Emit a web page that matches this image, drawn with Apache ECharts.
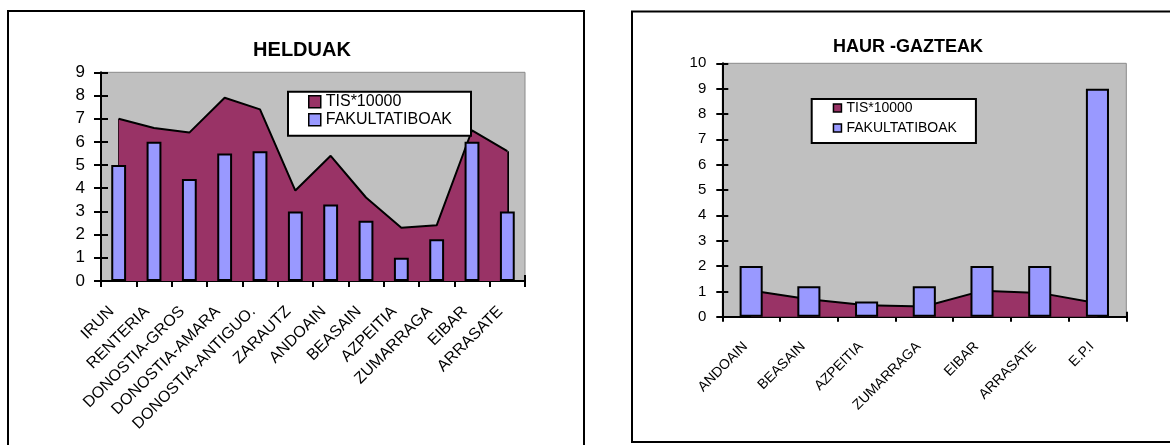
<!DOCTYPE html>
<html>
<head>
<meta charset="utf-8">
<script src="https://cdn.jsdelivr.net/npm/echarts@6/dist/echarts.min.js"></script>
<style>
html,body{margin:0;padding:0;background:#fff;}
#c{width:1170px;height:445px;}
</style>
</head>
<body>
<div id="c"></div>
<script>
// ---- data ----
const helduakCats = ['IRUN','RENTERIA','DONOSTIA-GROS','DONOSTIA-AMARA','DONOSTIA-ANTIGUO.','ZARAUTZ','ANDOAIN','BEASAIN','AZPEITIA','ZUMARRAGA','EIBAR','ARRASATE'];
const helduakTis = [7.0, 6.6, 6.4, 7.9, 7.4, 3.9, 5.4, 3.6, 2.3, 2.4, 6.5, 5.6];
const helduakFak = [5, 6, 4.4, 5.5, 5.6, 3, 3.3, 2.6, 1, 1.8, 6, 3];

const haurCats = ['ANDOAIN','BEASAIN','AZPEITIA','ZUMARRAGA','EIBAR','ARRASATE','E.P.I'];
const haurTis = [1.03, 0.69, 0.45, 0.4, 1.02, 0.94, 0.53];
const haurFak = [2, 1.2, 0.6, 1.2, 2, 2, 9];

const seriesNames = ['TIS*10000', 'FAKULTATIBOAK'];
const titles = ['HELDUAK', 'HAUR -GAZTEAK'];

// ---- styling ----
const FONT = '"Liberation Sans", Arial, sans-serif';
const AREA = '#993366';
const BAR = '#9999FF';
const BLACK = '#000';

const G1 = {left: 101, top: 72.3, width: 424, height: 208.7};
const G2 = {left: 722.3, top: 63.3, width: 404, height: 253.4};

function mainX(gi, cats, fs, margin, shift, tlen) {
  return {
    gridIndex: gi, type: 'category', data: cats, boundaryGap: true,
    axisLine: {onZero: false, lineStyle: {color: BLACK, width: 2}},
    axisTick: {show: true, interval: 0, length: tlen, lineStyle: {color: BLACK, width: 2}},
    axisLabel: {interval: 0, rotate: 45, fontSize: fs, margin: margin, padding: [0, shift, 0, 0],
                color: BLACK, fontFamily: FONT},
    splitLine: {show: false}
  };
}
function overX(gi, cats, h, tlen) {
  return {
    gridIndex: gi, type: 'category', data: cats, boundaryGap: true, position: 'top', offset: -h,
    axisLine: {show: false, onZero: false},
    axisTick: {show: true, interval: 0, length: tlen, lineStyle: {color: BLACK, width: 2}},
    axisLabel: {show: false}, splitLine: {show: false}
  };
}
function mainY(gi, max, fs, tlen) {
  return {
    gridIndex: gi, type: 'value', min: 0, max: max, interval: 1,
    axisLine: {show: true, onZero: false, lineStyle: {color: BLACK, width: 2}},
    axisTick: {show: true, length: tlen, lineStyle: {color: BLACK, width: 2}},
    axisLabel: {fontSize: fs, margin: 16, color: BLACK, fontFamily: FONT},
    splitLine: {show: false}
  };
}
function overY(gi, max, w, tlen) {
  return {
    gridIndex: gi, type: 'value', min: 0, max: max, interval: 1, position: 'right', offset: -w,
    axisLine: {show: false, onZero: false},
    axisTick: {show: true, length: tlen, lineStyle: {color: BLACK, width: 2}},
    axisLabel: {show: false}, splitLine: {show: false}
  };
}
function areaSeries(xi, yi, cats, vals) {
  const n = vals.length;
  return {
    type: 'line', name: seriesNames[0], xAxisIndex: xi, yAxisIndex: yi, data: vals,
    symbol: 'none', smooth: false, z: 2,
    lineStyle: {color: BLACK, width: 2},
    itemStyle: {color: AREA},
    areaStyle: {color: AREA, opacity: 1},
    markLine: {
      z: 2, silent: true, symbol: ['none', 'none'], animation: false,
      label: {show: false},
      lineStyle: {color: BLACK, width: 2, type: 'solid'},
      data: [
        [{coord: [cats[0], 0]}, {coord: [cats[0], vals[0]]}],
        [{coord: [cats[n - 1], 0]}, {coord: [cats[n - 1], vals[n - 1]]}]
      ]
    }
  };
}
function barSeries(xi, yi, vals, bw) {
  return {
    type: 'bar', name: seriesNames[1], xAxisIndex: xi, yAxisIndex: yi, data: vals,
    barWidth: bw, z: 6,
    itemStyle: {color: BAR, borderColor: BLACK, borderWidth: 2}
  };
}
function legendBox(left, top, fs, icon, gap, padding) {
  return {
    left: left, top: top, orient: 'vertical', selectedMode: false, z: 10,
    backgroundColor: '#fff', borderColor: BLACK, borderWidth: 2, borderRadius: 0,
    padding: padding, itemGap: gap, itemWidth: icon, itemHeight: icon, icon: 'rect',
    textStyle: {fontSize: fs, lineHeight: fs, color: BLACK, fontFamily: FONT},
    data: [
      {name: seriesNames[0], icon: 'rect', itemStyle: {color: AREA, borderColor: BLACK, borderWidth: 1.5}},
      {name: seriesNames[1], icon: 'rect', itemStyle: {color: BAR, borderColor: BLACK, borderWidth: 1.5}}
    ]
  };
}
function titleText(x, y, text, fs) {
  return {
    type: 'text', x: x, y: y, silent: true,
    style: {text: text, fontSize: fs, fontWeight: 'bold', fontFamily: FONT, fill: BLACK,
            align: 'center', verticalAlign: 'middle', textAlign: 'center', textVerticalAlign: 'middle'}
  };
}

const chart = echarts.init(document.getElementById('c'), null, {renderer: 'canvas'});
chart.setOption({
  animation: false,
  backgroundColor: '#fff',
  grid: [
    Object.assign({show: true, backgroundColor: '#C0C0C0', borderColor: '#8a8a8a', borderWidth: 1}, G1),
    Object.assign({show: true, backgroundColor: '#C0C0C0', borderColor: '#8a8a8a', borderWidth: 1}, G2)
  ],
  xAxis: [
    mainX(0, helduakCats, 16, 21, 10, 6),
    overX(0, helduakCats, G1.height, 6),
    mainX(1, haurCats, 14, 22, 8, 5),
    overX(1, haurCats, G2.height, 5)
  ],
  yAxis: [
    mainY(0, 9, 17, 7),
    overY(0, 9, G1.width, 7),
    mainY(1, 10, 15, 6),
    overY(1, 10, G2.width, 6)
  ],
  legend: [
    legendBox(288, 91.7, 16, 12, 2, [2, 19, 8, 20]),
    legendBox(811.7, 99, 14, 8, 6, [2, 19, 8, 21])
  ],
  series: [
    areaSeries(0, 0, helduakCats, helduakTis),
    barSeries(0, 0, helduakFak, '42%'),
    areaSeries(2, 2, haurCats, haurTis),
    barSeries(2, 2, haurFak, '40%')
  ],
  graphic: [
    {type: 'rect', silent: true, z: -10, shape: {x: 8, y: 11, width: 576, height: 445},
     style: {fill: null, stroke: BLACK, lineWidth: 2}},
    {type: 'rect', silent: true, z: -10, shape: {x: 632, y: 11.5, width: 600, height: 430.5},
     style: {fill: null, stroke: BLACK, lineWidth: 2}},
    titleText(302, 50.5, titles[0], 20),
    titleText(908, 47, titles[1], 18)
  ]
});
</script>
</body>
</html>
